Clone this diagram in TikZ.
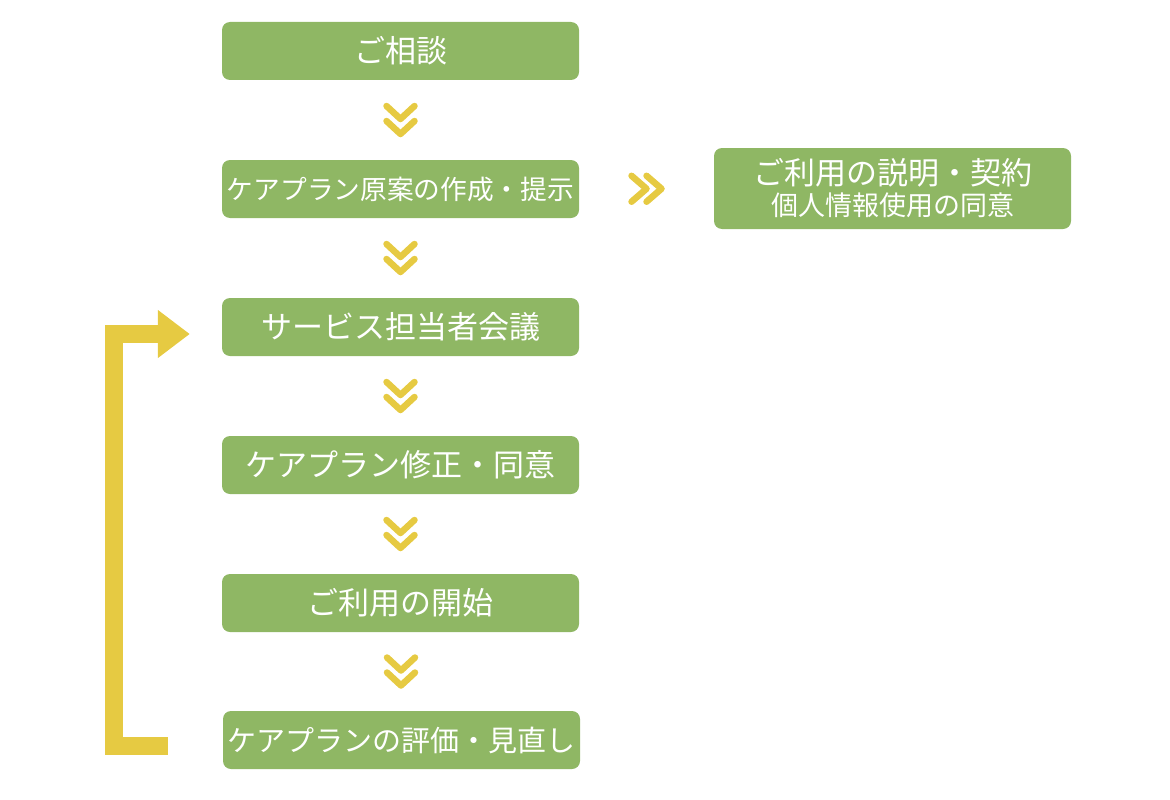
\documentclass[tikz,border=0pt]{standalone}
\usepackage{fontspec}
\newfontfamily\jpfont{Noto Sans CJK JP}
\usetikzlibrary{arrows.meta,calc}
\definecolor{stepgreen}{RGB}{143,183,100}
\definecolor{flowyellow}{RGB}{230,202,66}
\tikzset{
  stepbox/.style={fill=stepgreen,rounded corners=8pt,minimum width=357pt,minimum height=58pt,
    inner sep=0pt,text=white,font=\jpfont\fontsize{31pt}{36pt}\selectfont},
  chev/.style={draw=flowyellow,line width=6.5pt,line cap=round,line join=round},
  chevdown/.pic={
    \draw[chev] (-14,-14) -- (0,-1) -- (14,-14);
    \draw[chev] (-14,1) -- (0,14) -- (14,1);
  },
  chevright/.pic={
    \draw[chev] (-15,-13) -- (0,0) -- (-15,13);
    \draw[chev] (0,-13) -- (15,0) -- (0,13);
  },
  loopline/.style={draw=flowyellow,line width=18pt,line join=miter,
    -{Triangle[length=32pt,width=46pt]}}
}

\begin{document}
\begin{tikzpicture}[x=1pt,y=-1pt]
  \useasboundingbox (0,0) rectangle (1170,800);
  % Main flow of steps
  \node[stepbox] (b1) at (400.5,51) {ご相談};
  \node[stepbox,font=\jpfont\fontsize{26.7pt}{32pt}\selectfont] (b2) at (400.5,189) {ケアプラン原案の作成・提示};
  \node[stepbox] (b3) at (400.5,327) {サービス担当者会議};
  \node[stepbox] (b4) at (400.5,465) {ケアプラン修正・同意};
  \node[stepbox] (b5) at (400.5,603) {ご利用の開始};
  \node[stepbox,font=\jpfont\fontsize{29pt}{34pt}\selectfont] (b6) at (401.5,740) {ケアプランの評価・見直し};
  % Side step
  \node[stepbox,minimum height=81pt,align=center] (b7) at (892.5,188.5)
    {{\fontsize{31pt}{33pt}\selectfont ご利用の説明・契約}\\[-5pt]{\fontsize{27pt}{31pt}\selectfont 個人情報使用の同意}};
  % Chevrons between the steps
  \pic at ($(b1.south)!0.5!(b2.north)$) {chevdown};
  \pic at ($(b2.south)!0.5!(b3.north)$) {chevdown};
  \pic at ($(b3.south)!0.5!(b4.north)$) {chevdown};
  \pic at ($(b4.south)!0.5!(b5.north)$) {chevdown};
  \pic at ($(b5.south)!0.5!(b6.north)$) {chevdown};
  \pic at ($(b2.east)!0.5!(b7.west)$) {chevright};
  % Review loop back to the meeting
  \coordinate (loopstart) at ($(b6.west)+(-55,6)$);
  \coordinate (loopend) at ($(b3.west)+(-32,7)$);
  \draw[loopline] (loopstart) -- ++(-54,0) |- (loopend);
\end{tikzpicture}
\end{document}
